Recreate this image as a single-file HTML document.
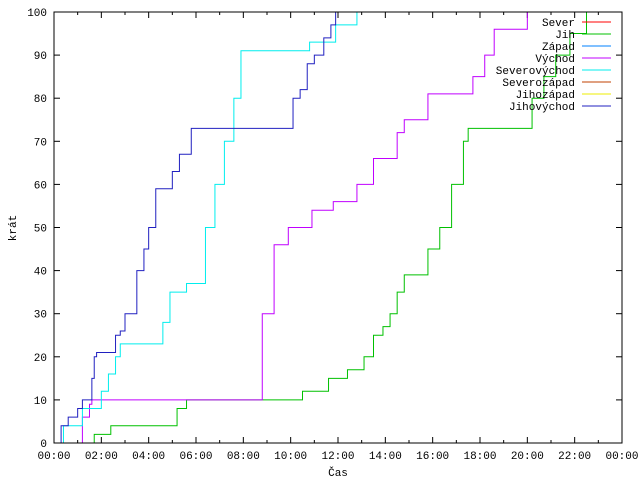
<!DOCTYPE html>
<html><head><meta charset="utf-8"><style>
body{margin:0;background:#fff}
svg text{font-family:"Liberation Mono","DejaVu Sans Mono",monospace;font-size:11px;fill:#000}
</style></head><body>
<svg id="chart" width="640" height="480" xmlns="http://www.w3.org/2000/svg">
<rect x="0" y="0" width="640" height="480" fill="#fff"/>
<g id="ticks"></g>
<g id="series"></g>
<rect x="54" y="12" width="568" height="431" fill="none" stroke="#000" stroke-width="1"/>
<text x="16" y="228" text-anchor="middle" transform="rotate(-90 16 228)">krát</text>
<text x="338" y="476" text-anchor="middle">Čas</text>
<g id="legend"></g>
</svg>
<script>
const xTickLabels=["00:00","02:00","04:00","06:00","08:00","10:00","12:00","14:00","16:00","18:00","20:00","22:00","00:00"];
const yTickLabels=[0,10,20,30,40,50,60,70,80,90,100];
const seriesNames=["Sever","Jih","Západ","Východ","Severovýchod","Severozápad","Jihozápad","Jihovýchod"];
const seriesColors=["#ff0000","#00c000","#0080ff","#c000ff","#00eeee","#c04000","#eeee00","#2020c0"];
// step data: [hour, value]
const jihovychodH=[0.1,0.3,0.6,1.0,1.2,1.6,1.7,1.8,2.2,2.6,2.8,3.0,3.5,3.8,4.0,4.3,4.7,5.0,5.3,5.5,5.8,9.8,10.1,10.4,10.7,11.0,11.4,11.7,11.9];
const jihovychodV=[0,4,6,8,10,15,20,21,21,25,26,30,40,45,50,59,59,63,67,67,73,73,80,82,88,90,94,97,100];
const severovychodH=[0.2,0.4,1.2,1.8,2.0,2.3,2.6,2.8,4.4,4.6,4.9,5.4,5.6,6.4,6.8,7.2,7.6,7.9,10.6,10.8,11.5,11.9,12.8];
const severovychodV=[0,4,8,8,12,16,20,23,23,28,35,35,37,50,60,70,80,91,91,93,93,97,100];
const vychodH=[0.9,1.2,1.5,1.6,8.2,8.8,9.3,9.9,10.5,10.9,11.6,11.8,12.4,12.8,13.5,14.1,14.5,14.8,15.2,15.8,17.4,17.7,18.2,18.6,19.6,20.0];
const vychodV=[0,6,9,10,10,30,46,50,50,54,54,56,56,60,66,66,72,75,75,81,81,85,90,96,96,100];
const jihH=[1.6,1.7,2.3,2.4,4.8,5.2,5.6,10.4,10.5,11.2,11.6,12.1,12.4,12.9,13.1,13.5,13.9,14.2,14.5,14.8,15.4,15.8,16.3,16.8,17.3,17.5,19.7,20.2,20.7,21.2,21.8,22.5];
const jihV=[0,2,2,4,4,8,10,10,12,12,15,15,17,17,20,25,27,30,35,39,39,45,50,60,70,73,73,80,85,90,95,100];
const NS="http://www.w3.org/2000/svg";
const X0=54,X1=622,Y0=443,Y1=12;
const xs=h=>X0+h*(X1-X0)/24;
const ys=v=>Y0-v*(Y0-Y1)/100;
const tg=document.getElementById('ticks');
function mk(t,a,p){const e=document.createElementNS(NS,t);for(const k in a)e.setAttribute(k,a[k]);p.appendChild(e);return e;}
for(let h=0;h<=24;h++){
  const x=xs(h),L=h%2?3:6;
  const t1=mk('line',{x1:x,x2:x,y1:Y0,y2:Y0-L,stroke:'#000'},tg);
  
  
  mk('line',{x1:x,x2:x,y1:Y1,y2:Y1+L,stroke:'#000'},tg);
}
xTickLabels.forEach((s,i)=>{
  const t=mk('text',{x:xs(i*2),y:459,'text-anchor':'middle'},tg);t.textContent=s;
  
  
});
yTickLabels.forEach(v=>{
  const y=ys(v);
  mk('line',{x1:X0,x2:X0+6,y1:y,y2:y,stroke:'#000'},tg);
  mk('line',{x1:X1,x2:X1-6,y1:y,y2:y,stroke:'#000'},tg);
  const t=mk('text',{x:47,y:y+4,'text-anchor':'end'},tg);t.textContent=v;
  
  
});
const sg=document.getElementById('series');
function stepPath(H,V,color,name){
  let d='M'+xs(H[0])+','+ys(V[0]);
  for(let i=1;i<H.length;i++){d+=' H'+xs(H[i])+' V'+ys(V[i]);}
  const p=mk('path',{d:d,fill:'none',stroke:color,'stroke-width':1},sg);
  
  
}
stepPath(jihH,jihV,seriesColors[1],'series-jih');
stepPath(vychodH,vychodV,seriesColors[3],'series-vychod');
stepPath(severovychodH,severovychodV,seriesColors[4],'series-severovychod');
stepPath(jihovychodH,jihovychodV,seriesColors[7],'series-jihovychod');
const lg=document.getElementById('legend');
seriesNames.forEach((n,i)=>{
  const y=22+i*12;
  const t=mk('text',{x:575,y:y+4,'text-anchor':'end'},lg);t.textContent=n;
  
  
  const l=mk('line',{x1:582,x2:611,y1:y,y2:y,stroke:seriesColors[i],'stroke-width':1},lg);
  
  
});
</script>
</body></html>
